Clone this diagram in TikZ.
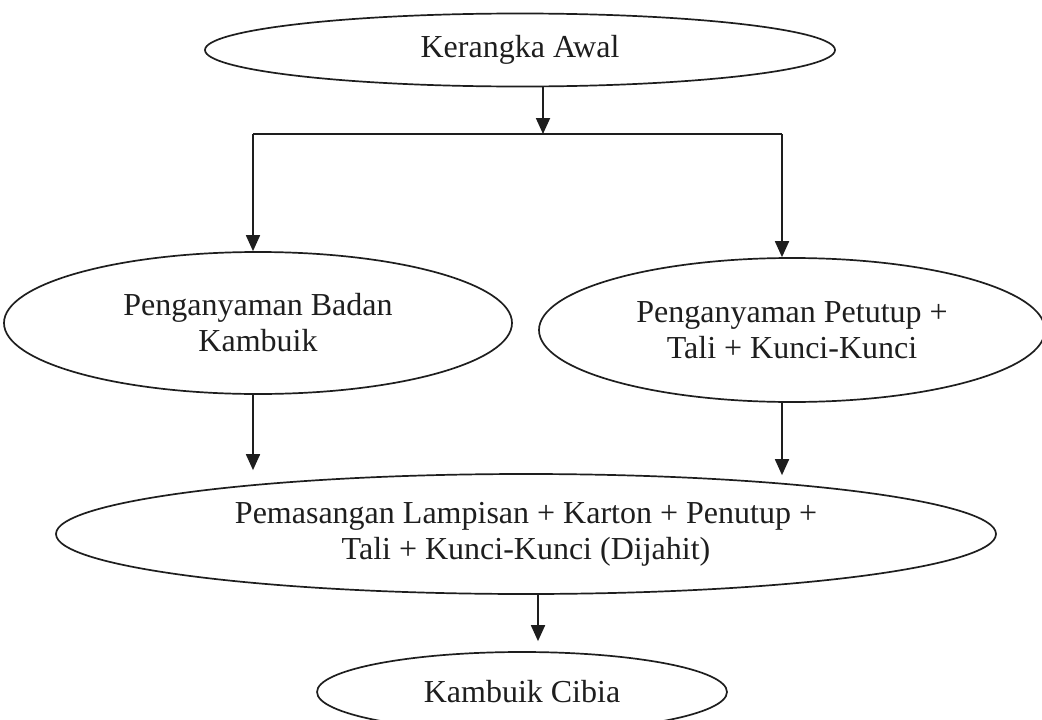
\documentclass[tikz,border=0pt]{standalone}
\usepackage{fontspec}
\setmainfont{Liberation Serif}
\usetikzlibrary{shapes.geometric,arrows.meta}
\definecolor{ink}{HTML}{1E1E1E}
\begin{document}
\begin{tikzpicture}[x=1pt,y=-1pt,
  ell/.style={ellipse,draw=ink,line width=1.7pt,inner sep=0pt,align=center,
    text=ink,font=\fontsize{32}{36}\selectfont},
  arr/.style={draw=ink,line width=1.8pt,-{Triangle[length=16pt,width=14pt]}},
  ln/.style={draw=ink,line width=1.8pt}]
\useasboundingbox (0,0) rectangle (1042,720);
\fill[white] (0,0) rectangle (1042,720);
\node[ell,minimum width=630pt,minimum height=73pt] (top) at (520,50) {Kerangka Awal};
\node[ell,minimum width=508pt,minimum height=142pt] (left) at (258,323) {Penganyaman Badan\\Kambuik};
\node[ell,minimum width=506pt,minimum height=144pt] (right) at (792,330) {Penganyaman Petutup +\\Tali + Kunci-Kunci};
\node[ell,minimum width=940pt,minimum height=120pt] (mid) at (526,534) {Pemasangan Lampisan + Karton + Penutup +\\Tali + Kunci-Kunci (Dijahit)};
\node[ell,minimum width=410pt,minimum height=80pt] (final) at (522,692) {Kambuik Cibia};
\coordinate (br) at (543,134);
\coordinate (bl) at (253,134);
\coordinate (brr) at (782,134);
\coordinate (bx) at (538,600);
\draw[arr] (top.south -| br) -- (br);
\draw[ln] (bl) -- (brr);
\draw[arr] (bl) -- (bl |- left.north);
\draw[arr] (brr) -- (brr |- right.north);
\draw[arr,shorten >=3pt] (left.south -| bl) -- (bl |- mid.north);
\draw[arr,shorten >=-2pt] (right.south -| brr) -- (brr |- mid.north);
\draw[arr,shorten >=10pt] (mid.south -| bx) -- (bx |- final.north);
\end{tikzpicture}
\end{document}
